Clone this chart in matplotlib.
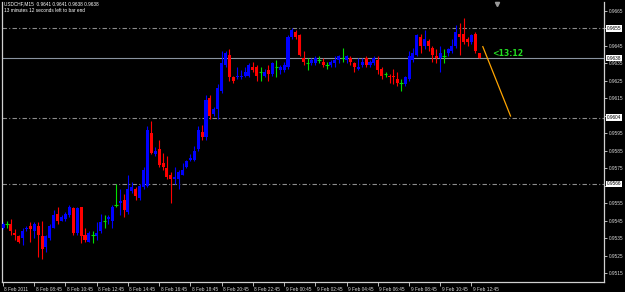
import matplotlib
matplotlib.use("Agg")
import matplotlib.pyplot as plt
import matplotlib.transforms as mtransforms
from matplotlib import font_manager
import numpy as np

# ---------------- data (USDCHF, M15) ----------------
opens = [0.9541, 0.9543, 0.9543, 0.9538, 0.9536, 0.9535, 0.9540, 0.9542, 0.9539, 0.9542,
         0.9536, 0.9530, 0.9535, 0.9541, 0.9549, 0.9545, 0.9546, 0.9548, 0.9552, 0.9538,
         0.9553, 0.9537, 0.9533, 0.9537, 0.9536, 0.9539, 0.9545, 0.9546, 0.9545, 0.9554,
         0.9555, 0.9557, 0.9550, 0.9562, 0.9563, 0.9558, 0.9564, 0.9565, 0.9595, 0.9583,
         0.9586, 0.9578, 0.9575, 0.9571, 0.9569, 0.9569, 0.9571, 0.9576, 0.9580, 0.9580,
         0.9586, 0.9596, 0.9593, 0.9615, 0.9606, 0.9609, 0.9619, 0.9634, 0.9640, 0.9627,
         0.9627, 0.9627, 0.9628, 0.9628, 0.9633, 0.9633, 0.9630, 0.9628, 0.9631, 0.9629,
         0.9633, 0.9631, 0.9631, 0.9633, 0.9650, 0.9653, 0.9651, 0.9638, 0.9635, 0.9635,
         0.9635, 0.9637, 0.9636, 0.9634, 0.9634, 0.9635, 0.9637, 0.9638, 0.9637, 0.9638,
         0.9635, 0.9632, 0.9634, 0.9638, 0.9634, 0.9635, 0.9637, 0.9632, 0.9629, 0.9628,
         0.9628, 0.9626, 0.9624, 0.9623, 0.9626, 0.9637, 0.9640, 0.9650, 0.9645, 0.9648,
         0.9644, 0.9639, 0.9638, 0.9639, 0.9641, 0.9642, 0.9645, 0.9652, 0.9652, 0.9649,
         0.9647, 0.9652, 0.9641]
highs = [0.9544, 0.9545, 0.9546, 0.9540, 0.9537, 0.9541, 0.9542, 0.9544, 0.9544, 0.9544,
         0.9545, 0.9537, 0.9543, 0.9551, 0.9553, 0.9548, 0.9550, 0.9554, 0.9553, 0.9553,
         0.9553, 0.9541, 0.9539, 0.9539, 0.9544, 0.9549, 0.9548, 0.9548, 0.9554, 0.9566,
         0.9563, 0.9560, 0.9571, 0.9567, 0.9564, 0.9566, 0.9576, 0.9599, 0.9602, 0.9587,
         0.9591, 0.9584, 0.9582, 0.9573, 0.9576, 0.9574, 0.9578, 0.9580, 0.9583, 0.9588,
         0.9599, 0.9600, 0.9617, 0.9617, 0.9610, 0.9623, 0.9642, 0.9642, 0.9643, 0.9628,
         0.9633, 0.9631, 0.9633, 0.9635, 0.9636, 0.9634, 0.9633, 0.9632, 0.9634, 0.9636,
         0.9637, 0.9634, 0.9636, 0.9651, 0.9655, 0.9654, 0.9652, 0.9642, 0.9638, 0.9638,
         0.9639, 0.9639, 0.9638, 0.9636, 0.9637, 0.9639, 0.9640, 0.9644, 0.9640, 0.9639,
         0.9636, 0.9638, 0.9638, 0.9639, 0.9637, 0.9639, 0.9639, 0.9633, 0.9630, 0.9629,
         0.9632, 0.9630, 0.9626, 0.9628, 0.9642, 0.9644, 0.9652, 0.9652, 0.9654, 0.9649,
         0.9645, 0.9643, 0.9645, 0.9643, 0.9644, 0.9649, 0.9657, 0.9658, 0.9661, 0.9650,
         0.9652, 0.9653, 0.9641]
lows = [0.9540, 0.9541, 0.9537, 0.9534, 0.9532, 0.9531, 0.9539, 0.9533, 0.9535, 0.9524,
        0.9523, 0.9527, 0.9534, 0.9541, 0.9543, 0.9545, 0.9545, 0.9547, 0.9537, 0.9537,
        0.9532, 0.9533, 0.9533, 0.9532, 0.9534, 0.9538, 0.9541, 0.9543, 0.9541, 0.9553,
        0.9548, 0.9547, 0.9549, 0.9561, 0.9557, 0.9557, 0.9563, 0.9564, 0.9583, 0.9582,
        0.9576, 0.9574, 0.9569, 0.9555, 0.9566, 0.9563, 0.9571, 0.9575, 0.9579, 0.9579,
        0.9585, 0.9591, 0.9591, 0.9603, 0.9605, 0.9603, 0.9618, 0.9633, 0.9625, 0.9624,
        0.9626, 0.9626, 0.9627, 0.9627, 0.9630, 0.9625, 0.9625, 0.9627, 0.9625, 0.9628,
        0.9627, 0.9629, 0.9630, 0.9632, 0.9649, 0.9649, 0.9639, 0.9634, 0.9631, 0.9634,
        0.9634, 0.9635, 0.9633, 0.9632, 0.9633, 0.9633, 0.9635, 0.9636, 0.9635, 0.9634,
        0.9630, 0.9631, 0.9633, 0.9633, 0.9633, 0.9634, 0.9629, 0.9626, 0.9627, 0.9624,
        0.9623, 0.9622, 0.9619, 0.9622, 0.9625, 0.9636, 0.9639, 0.9641, 0.9643, 0.9642,
        0.9636, 0.9635, 0.9630, 0.9635, 0.9639, 0.9641, 0.9644, 0.9640, 0.9646, 0.9645,
        0.9646, 0.9641, 0.9638]
closes = [0.9543, 0.9543, 0.9539, 0.9537, 0.9533, 0.9539, 0.9541, 0.9540, 0.9543, 0.9537,
          0.9529, 0.9536, 0.9542, 0.9548, 0.9545, 0.9547, 0.9549, 0.9553, 0.9538, 0.9552,
          0.9536, 0.9534, 0.9538, 0.9537, 0.9538, 0.9544, 0.9545, 0.9547, 0.9553, 0.9554,
          0.9556, 0.9551, 0.9563, 0.9564, 0.9559, 0.9565, 0.9574, 0.9597, 0.9584, 0.9585,
          0.9577, 0.9576, 0.9570, 0.9569, 0.9570, 0.9573, 0.9574, 0.9579, 0.9581, 0.9585,
          0.9597, 0.9593, 0.9614, 0.9605, 0.9609, 0.9621, 0.9635, 0.9641, 0.9627, 0.9625,
          0.9628, 0.9628, 0.9630, 0.9634, 0.9631, 0.9628, 0.9630, 0.9630, 0.9629, 0.9635,
          0.9633, 0.9633, 0.9634, 0.9650, 0.9654, 0.9650, 0.9640, 0.9636, 0.9635, 0.9637,
          0.9638, 0.9637, 0.9634, 0.9634, 0.9636, 0.9637, 0.9639, 0.9638, 0.9639, 0.9636,
          0.9633, 0.9633, 0.9636, 0.9634, 0.9636, 0.9638, 0.9631, 0.9628, 0.9629, 0.9627,
          0.9627, 0.9624, 0.9624, 0.9627, 0.9639, 0.9641, 0.9651, 0.9645, 0.9649, 0.9645,
          0.9640, 0.9638, 0.9641, 0.9639, 0.9643, 0.9645, 0.9653, 0.9650, 0.9647, 0.9647,
          0.9651, 0.9642, 0.9638]

x_tick_bars = [0, 8, 16, 24, 32, 40, 48, 56, 64, 72, 80, 88, 96, 104, 112, 120]
x_tick_labels = ["8 Feb 2011", "8 Feb 08:45", "8 Feb 10:45", "8 Feb 12:45", "8 Feb 14:45",
                 "8 Feb 16:45", "8 Feb 18:45", "8 Feb 20:45", "8 Feb 22:45", "9 Feb 00:45",
                 "9 Feb 02:45", "9 Feb 04:45", "9 Feb 06:45", "9 Feb 08:45", "9 Feb 10:45",
                 "9 Feb 12:45"]
price_ticks = [0.9515, 0.9525, 0.9535, 0.9545, 0.9555, 0.9565, 0.9575, 0.9585,
               0.9595, 0.9605, 0.9615, 0.9625, 0.9635, 0.9645, 0.9655, 0.9665]
hidden_tick_labels = [0.9565, 0.9605, 0.9655]   # covered by the level boxes
level_lines = [0.9655, 0.9604, 0.9566]
bid_price = 0.9638
trend_x = [122.9, 130.0]
trend_y = [0.96446, 0.96049]
timer_text = "<13:12"
header1 = "USDCHF,M15  0.9641 0.9641 0.9638 0.9638"
header2 = "13 minutes 12 seconds left to bar end"

# ---------------- fonts ----------------
names = {f.name for f in font_manager.fontManager.ttflist}
small_font = ["Liberation Sans Narrow"] if "Liberation Sans Narrow" in names else ["Liberation Sans"]
small_size = 4.0 if small_font[0] == "Liberation Sans Narrow" else 3.4
plt.rcParams["font.family"] = small_font + ["DejaVu Sans"]

# ---------------- figure ----------------
W, H = 625, 292
fig = plt.figure(figsize=(W / 100, H / 100), dpi=100, facecolor="black")
ax = fig.add_axes([2 / W, 10 / H, 602 / W, 280 / H], facecolor="black")

o = np.array(opens); h = np.array(highs); l = np.array(lows); c = np.array(closes)
idx = np.arange(len(o))
bull, bear, doji = "#0000FF", "#FF0000", "#00E000"
cols = np.where(c > o, bull, np.where(c < o, bear, doji))

ax.vlines(idx, l, h, colors=cols, lw=0.8, zorder=3)
ax.bar(idx, np.abs(c - o), bottom=np.minimum(o, c), width=0.78, color=cols,
       linewidth=0, zorder=4)
dm = c == o
ax.hlines(o[dm], idx[dm] - 0.45, idx[dm] + 0.45, colors=doji, lw=0.8, zorder=4)

# horizontal levels
for lv in level_lines:
    ax.axhline(lv, color="#8c8c8c", lw=0.8, ls=(0, (4, 2, 1, 2)), zorder=1)
ax.axhline(bid_price, color="#8a93a0", lw=0.8, zorder=2)

# trend line and timer
ax.plot(trend_x, trend_y, color="#FFA500", lw=0.9, zorder=5)
ax.text(125.3, 0.96404, timer_text, color="#22DD22", fontsize=5.6, fontweight="bold",
        family=["DejaVu Sans"], va="center", ha="left", zorder=6)
ax.plot([126.5], [0.9669], marker="v", color="#9a9a9a", ms=3, zorder=6, clip_on=False)

ax.set_xlim(-0.256, 153.94)
ax.set_ylim(0.950990, 0.967015)

# axes styling
ax.spines["top"].set_visible(False)
for s in ["left", "right", "bottom"]:
    ax.spines[s].set_color("#d0d0d0")
    ax.spines[s].set_linewidth(0.9)

ax.yaxis.tick_right()
ax.set_yticks(price_ticks)
ax.set_yticklabels(["" if any(abs(p - q) < 1e-9 for q in hidden_tick_labels) else f"{p:.4f}"
                    for p in price_ticks])
ax.tick_params(axis="y", colors="#d8d8d8", length=2.5, width=0.6, pad=1, labelsize=small_size)

ax.set_xticks(x_tick_bars)
ax.set_xticklabels(x_tick_labels, ha="left")
ax.tick_params(axis="x", colors="#d8d8d8", length=3, width=0.6, pad=0.5, labelsize=small_size)
for lbl in ax.get_xticklabels():
    lbl.set_transform(lbl.get_transform() + mtransforms.ScaledTranslation(1.5 / 100, 0, fig.dpi_scale_trans))

# price boxes on axis
tr = mtransforms.blended_transform_factory(ax.transAxes, ax.transData)
for lv in level_lines + [bid_price]:
    ax.text(1.005, lv, f"{lv:.4f}", transform=tr, fontsize=small_size, color="black",
            va="center", ha="left", clip_on=False, zorder=10,
            bbox=dict(boxstyle="square,pad=0.15", fc="white", ec="none"))

# header
fig.text(4 / W, 1 - 1 / H, header1, color="white", fontsize=small_size, va="top", ha="left")
fig.text(4 / W, 1 - 7.5 / H, header2, color="white", fontsize=small_size, va="top", ha="left")

fig.savefig("out.png", dpi=100, facecolor="black")
